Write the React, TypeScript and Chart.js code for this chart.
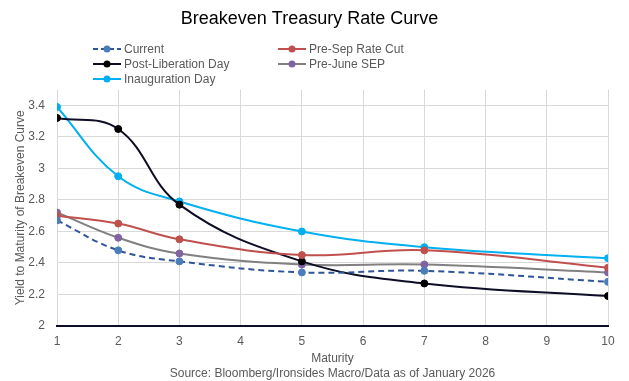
import React, { useEffect, useRef } from "react";
import { Chart, registerables } from "chart.js";

Chart.register(...registerables);

const maturities = [1, 2, 3, 5, 7, 10];
const current = [2.67, 2.48, 2.41, 2.34, 2.35, 2.28];
const preSepRateCut = [2.7, 2.65, 2.55, 2.45, 2.48, 2.37];
const postLiberationDay = [3.32, 3.25, 2.77, 2.41, 2.27, 2.19];
const preJuneSEP = [2.72, 2.56, 2.46, 2.39, 2.39, 2.34];
const inaugurationDay = [3.39, 2.95, 2.79, 2.6, 2.5, 2.43];
const yTicks = [2, 2.2, 2.4, 2.6, 2.8, 3, 3.2, 3.4];

const FONT = "'Liberation Sans', Arial, sans-serif";

const seriesDefs = [
  { label: "Current", data: current, line: "#2F5597", point: "#4A7EBB", dash: [6, 4] },
  { label: "Pre-Sep Rate Cut", data: preSepRateCut, line: "#C0504D", point: "#C0504D", dash: [] },
  { label: "Post-Liberation Day", data: postLiberationDay, line: "#0D0D26", point: "#000000", dash: [] },
  { label: "Pre-June SEP", data: preJuneSEP, line: "#808080", point: "#8064A2", dash: [] },
  { label: "Inauguration Day", data: inaugurationDay, line: "#00B0F0", point: "#00B0F0", dash: [] },
];

const legendPos = [
  { x: 92, y: 48 },
  { x: 277, y: 48 },
  { x: 92, y: 63 },
  { x: 277, y: 63 },
  { x: 92, y: 78 },
];

export default function App() {
  const ref = useRef<HTMLCanvasElement>(null);
  useEffect(() => {
    if (!ref.current) return;
    const chart = new Chart(ref.current, {
      type: "line",
      data: {
        datasets: seriesDefs.map((s) => ({
          label: s.label,
          data: maturities.map((m, i) => ({ x: m, y: s.data[i] })),
          borderColor: s.line,
          backgroundColor: s.point,
          pointBackgroundColor: s.point,
          pointBorderColor: s.point,
          pointRadius: 3.5,
          pointBorderWidth: 1,
          borderWidth: 2,
          borderDash: s.dash,
          tension: 0.4,
          fill: false,
        })),
      },
      options: {
        animation: false,
        responsive: false,
        layout: { padding: { top: 0, left: 11, right: 21, bottom: 0 } },
        plugins: {
          legend: { display: false },
          tooltip: { enabled: false },
          title: {
            display: true,
            text: "Breakeven Treasury Rate Curve",
            color: "#000000",
            font: { family: FONT, size: 18, weight: "normal" },
            padding: { top: 8, bottom: 60 },
          },
        },
        scales: {
          x: {
            type: "linear",
            min: 1,
            max: 10,
            afterFit: (scale: any) => {
              scale.height = 55;
            },
            ticks: { stepSize: 1, color: "#595959", font: { family: FONT, size: 12, lineHeight: 1 }, padding: 10 },
            grid: { color: "#D9D9D9", drawTicks: false },
            border: { color: "#0D0D26", width: 2 },
            title: {
              display: true,
              text: ["Maturity", "Source: Bloomberg/Ironsides Macro/Data as of January 2026"],
              color: "#595959",
              font: { family: FONT, size: 12, lineHeight: 1.25 },
              padding: { top: 2, bottom: 0 },
            },
          },
          y: {
            min: 2,
            max: 3.5,
            afterFit: (scale: any) => {
              scale.width = 46;
            },
            afterBuildTicks: (scale: any) => {
              scale.ticks = yTicks.map((v) => ({ value: v }));
            },
            ticks: {
              color: "#595959",
              font: { family: FONT, size: 12 },
              padding: 12,
              callback: (v: any) => String(Number(v)),
            },
            grid: { color: "#D9D9D9", drawTicks: false },
            border: { display: false },
            title: {
              display: true,
              text: "Yield to Maturity of Breakeven Curve",
              color: "#595959",
              font: { family: FONT, size: 12 },
              padding: { top: 2, bottom: 0 },
            },
          },
        },
      },
    });
    return () => chart.destroy();
  }, []);

  return (
    <div style={{ position: "fixed", left: 0, top: 0, width: 629, height: 381, background: "#fff" }}>
      <canvas ref={ref} width={629} height={381} style={{ display: "block" }} />
      {seriesDefs.map((s, i) => (
        <div
          key={s.label}
          style={{
            position: "absolute",
            left: legendPos[i].x,
            top: legendPos[i].y - 7,
            height: 16,
            display: "flex",
            alignItems: "center",
            fontFamily: FONT,
            fontSize: 12,
            color: "#595959",
            whiteSpace: "nowrap",
          }}
        >
          <svg width={30} height={16} style={{ marginRight: 2 }}>
            <line
              x1={1}
              y1={8}
              x2={29}
              y2={8}
              stroke={s.line}
              strokeWidth={2}
              strokeDasharray={s.dash.length ? "5 3" : undefined}
            />
            <circle cx={15} cy={8} r={3.5} fill={s.point} />
          </svg>
          <span>{s.label}</span>
        </div>
      ))}
    </div>
  );
}
